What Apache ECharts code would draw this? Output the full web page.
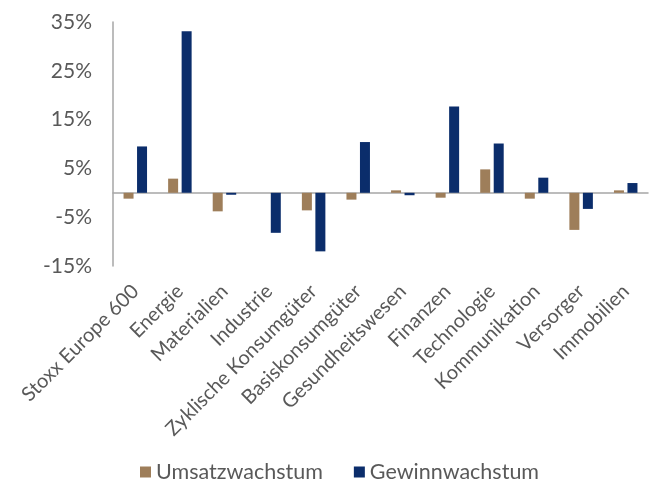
<!DOCTYPE html>
<html>
<head>
<meta charset="utf-8">
<script src="https://cdn.jsdelivr.net/npm/echarts@6/dist/echarts.min.js"></script>
<style>
  html, body { margin: 0; padding: 0; background: #fff; }
  #chart { width: 650px; height: 484px; }
</style>
</head>
<body>
<div id="chart"></div>
<script>
// Sectors of the Stoxx Europe 600
const categories = [
  'Stoxx Europe 600', 'Energie', 'Materialien', 'Industrie',
  'Zyklische Konsumgüter', 'Basiskonsumgüter', 'Gesundheitswesen',
  'Finanzen', 'Technologie', 'Kommunikation', 'Versorger', 'Immobilien'
];
// Growth rates in percent
const umsatzwachstum = [-1.2, 2.9, -3.8, 0.0, -3.6, -1.4, 0.5, -1.0, 4.8, -1.2, -7.6, 0.5];
const gewinnwachstum = [9.5, 33.1, -0.4, -8.2, -12.0, 10.4, -0.5, 17.7, 10.1, 3.1, -3.3, 2.0];
// Value axis ticks
const yMin = -15, yMax = 35, yStep = 10;

const textColor = '#595959';
const fontFamily = 'Lato, "Open Sans", sans-serif';

const chart = echarts.init(document.getElementById('chart'));
chart.setOption({
  animation: false,
  textStyle: { fontFamily: fontFamily, color: textColor },
  grid: { left: 113, right: 2, top: 22, bottom: 218, containLabel: false },
  legend: {
    top: 461,
    left: 140,
    padding: 0,
    itemWidth: 11,
    itemHeight: 11,
    itemGap: 31,
    icon: 'rect',
    textStyle: { fontFamily: fontFamily, fontSize: 21.5, color: textColor },
    data: ['Umsatzwachstum', 'Gewinnwachstum']
  },
  xAxis: {
    type: 'category',
    data: categories,
    axisLine: { onZero: true, lineStyle: { color: '#a6a6a6', width: 1.5 } },
    axisTick: { show: false },
    axisLabel: {
      interval: 0,
      rotate: 45,
      fontSize: 20,
      color: textColor,
      margin: 22
    }
  },
  yAxis: {
    type: 'value',
    min: yMin,
    max: yMax,
    interval: yStep,
    splitLine: { show: false },
    axisLine: { show: true, lineStyle: { color: '#a6a6a6', width: 1.5 } },
    axisTick: { show: false },
    axisLabel: {
      fontSize: 21,
      color: textColor,
      margin: 21,
      formatter: v => v + '%'
    }
  },
  series: [
    {
      name: 'Umsatzwachstum',
      type: 'bar',
      data: umsatzwachstum,
      barWidth: 10,
      barGap: '35%',
      itemStyle: { color: '#9e7e5a' }
    },
    {
      name: 'Gewinnwachstum',
      type: 'bar',
      data: gewinnwachstum,
      barWidth: 10,
      itemStyle: { color: '#0b2d6b' }
    }
  ]
});
</script>
</body>
</html>
